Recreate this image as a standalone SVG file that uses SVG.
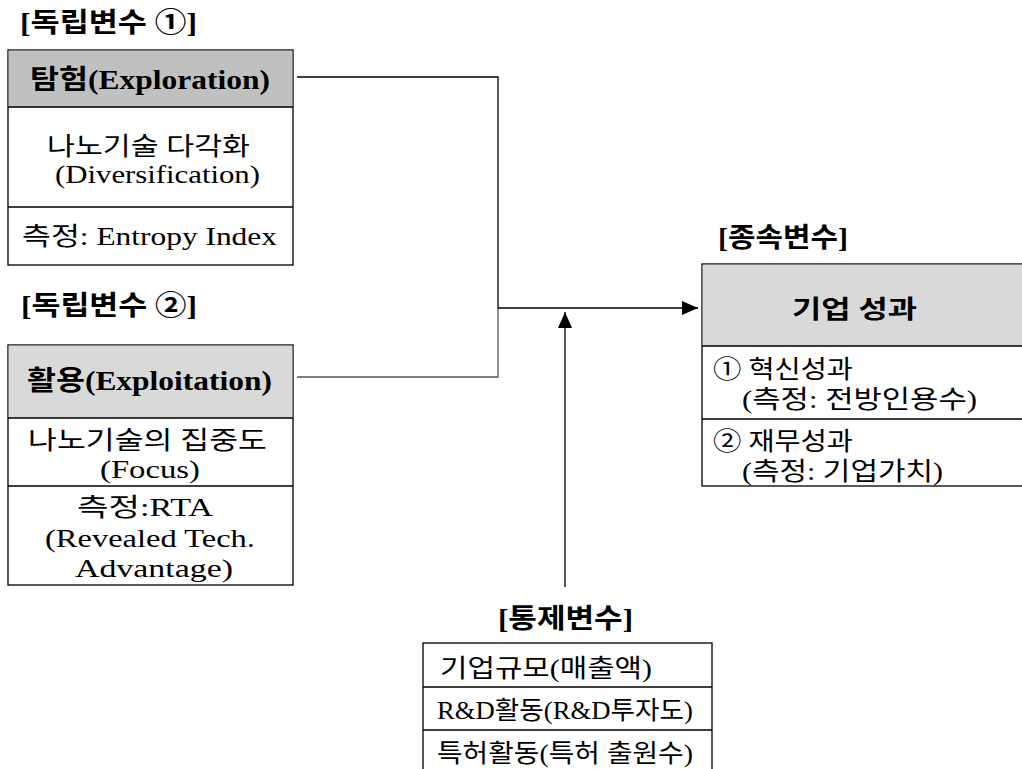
<svg xmlns="http://www.w3.org/2000/svg" width="1022" height="769" viewBox="0 0 1022 769">
<style>
.t{font-family:"Liberation Serif","Noto Sans CJK KR",serif;font-size:25px;fill:#000}
.b{font-weight:bold}
.k{font-size:27px}
.box{fill:#fff;stroke:#000;stroke-width:1.3}
.h1{fill:#c0c0c0}
.h2{fill:#d9d9d9}
.ln{fill:none;stroke:#000;stroke-width:1.3}
.gl{fill:none;stroke:#555;stroke-width:1.3}
</style>
<defs>
<marker id="ar" viewBox="0 0 16 14" refX="16" refY="7" markerWidth="16" markerHeight="14" markerUnits="userSpaceOnUse" orient="auto">
<path d="M0,0 L16,7 L0,14 Z" fill="#000"/>
</marker>
</defs>
<rect width="1022" height="769" fill="#fff"/>

<g id="connectors">
<path class="ln" d="M297,77 H498 V308"/>
<path class="gl" d="M297,377 H498 V308"/>
<path class="ln" d="M498,308 H698" marker-end="url(#ar)"/>
<path class="ln" d="M565,587 V312" marker-end="url(#ar)"/>
</g>

<g id="iv1">
<text class="t b k" x="20" y="32" textLength="177" lengthAdjust="spacingAndGlyphs">[독립변수 ①]</text>
<rect class="box" x="8" y="50" width="285" height="215"/>
<rect class="h1" x="8.7" y="50.7" width="283.6" height="56.6"/>
<line class="ln" x1="8" y1="107" x2="293" y2="107"/>
<line class="ln" x1="8" y1="207" x2="293" y2="207"/>
<text class="t b k" x="30" y="89" textLength="240" lengthAdjust="spacingAndGlyphs">탐험(Exploration)</text>
<text class="t" x="47" y="155" textLength="203" lengthAdjust="spacingAndGlyphs">나노기술 다각화</text>
<text class="t" x="55" y="183" textLength="205" lengthAdjust="spacingAndGlyphs">(Diversification)</text>
<text class="t" x="22" y="245" textLength="255" lengthAdjust="spacingAndGlyphs">측정: Entropy Index</text>
</g>

<g id="iv2">
<text class="t b k" x="21" y="315" textLength="176" lengthAdjust="spacingAndGlyphs">[독립변수 ②]</text>
<rect class="box" x="8" y="345" width="285" height="240"/>
<rect class="h2" x="8.7" y="345.7" width="283.6" height="72.6"/>
<line class="ln" x1="8" y1="418" x2="293" y2="418"/>
<line class="ln" x1="8" y1="486" x2="293" y2="486"/>
<text class="t b k" x="27" y="390" textLength="245" lengthAdjust="spacingAndGlyphs">활용(Exploitation)</text>
<text class="t" x="28" y="449" textLength="239" lengthAdjust="spacingAndGlyphs">나노기술의 집중도</text>
<text class="t" x="100" y="478" textLength="100" lengthAdjust="spacingAndGlyphs">(Focus)</text>
<text class="t" x="77" y="516" textLength="136" lengthAdjust="spacingAndGlyphs">측정:RTA</text>
<text class="t" x="45" y="547" textLength="210" lengthAdjust="spacingAndGlyphs">(Revealed Tech.</text>
<text class="t" x="75" y="577" textLength="158" lengthAdjust="spacingAndGlyphs">Advantage)</text>
</g>

<g id="dv">
<text class="t b k" x="718" y="247" textLength="130" lengthAdjust="spacingAndGlyphs">[종속변수]</text>
<rect class="box" x="702" y="264" width="330" height="222"/>
<rect class="h2" x="702.7" y="264.7" width="330" height="81.6"/>
<line class="ln" x1="702" y1="346" x2="1032" y2="346"/>
<line class="ln" x1="702" y1="419" x2="1032" y2="419"/>
<text class="t b" x="792" y="318" font-size="29" textLength="125" lengthAdjust="spacingAndGlyphs">기업 성과</text>
<text class="t" x="713" y="378" textLength="140" lengthAdjust="spacingAndGlyphs">① 혁신성과</text>
<text class="t" x="742" y="408" textLength="235" lengthAdjust="spacingAndGlyphs">(측정: 전방인용수)</text>
<text class="t" x="713" y="450" textLength="140" lengthAdjust="spacingAndGlyphs">② 재무성과</text>
<text class="t" x="742" y="480" textLength="201" lengthAdjust="spacingAndGlyphs">(측정: 기업가치)</text>
</g>

<g id="cv">
<text class="t b k" x="498" y="628" textLength="135" lengthAdjust="spacingAndGlyphs">[통제변수]</text>
<rect class="box" x="423" y="643" width="289" height="140"/>
<line class="ln" x1="423" y1="687" x2="712" y2="687"/>
<line class="ln" x1="423" y1="730" x2="712" y2="730"/>
<text class="t" x="440" y="677" textLength="212" lengthAdjust="spacingAndGlyphs">기업규모(매출액)</text>
<text class="t" x="437" y="719" textLength="256" lengthAdjust="spacingAndGlyphs">R&amp;D활동(R&amp;D투자도)</text>
<text class="t" x="437" y="762" textLength="256" lengthAdjust="spacingAndGlyphs">특허활동(특허 출원수)</text>
</g>
</svg>
